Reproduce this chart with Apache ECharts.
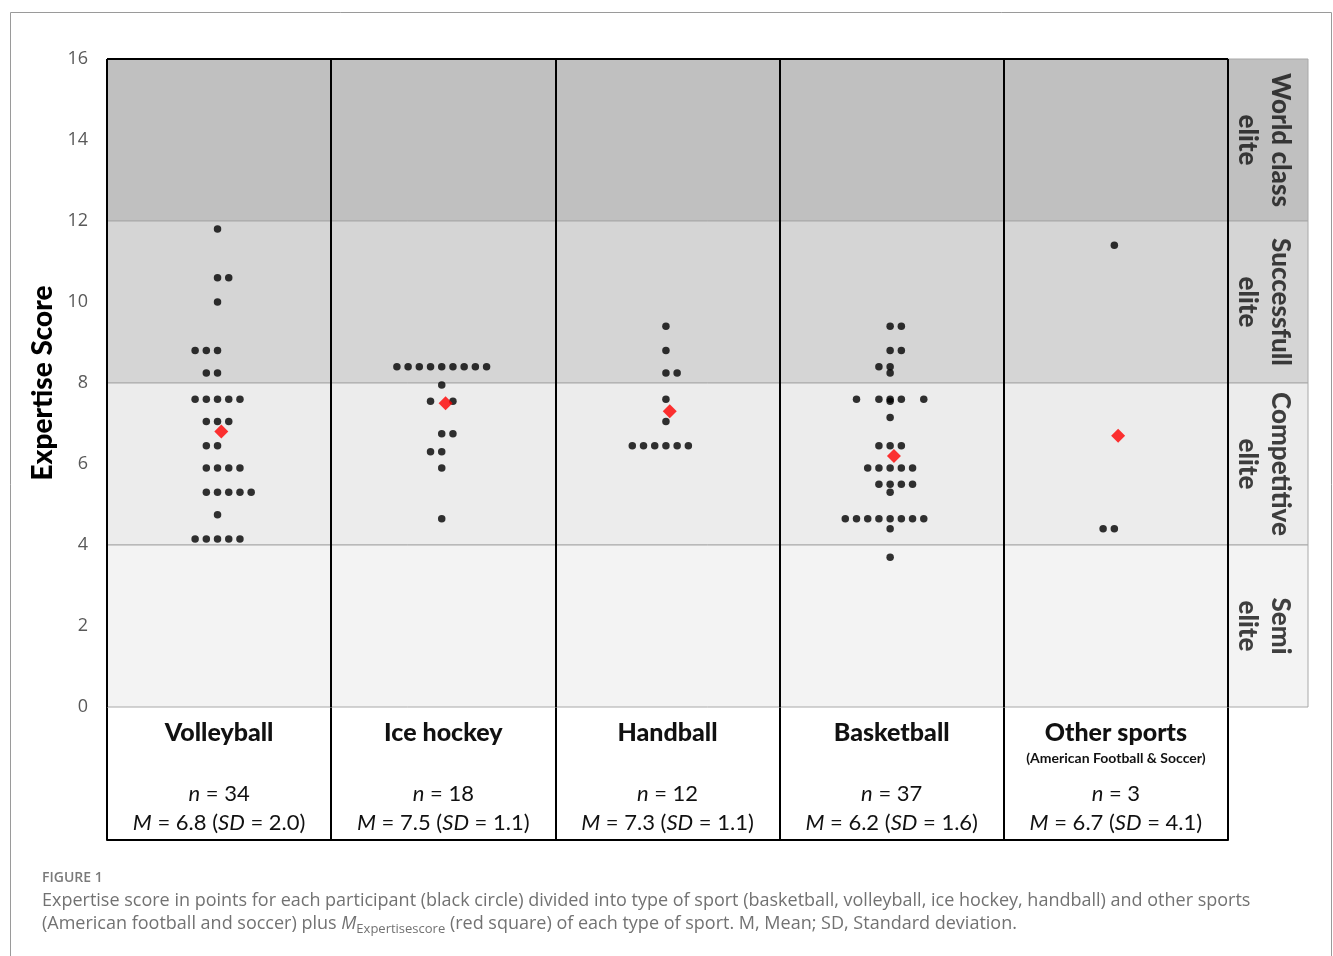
<!DOCTYPE html>
<html>
<head>
<meta charset="utf-8">
<script src="https://cdn.jsdelivr.net/npm/echarts@6/dist/echarts.min.js"></script>
<style>
  html, body { margin: 0; padding: 0; background: #fff; }
  #chart { width: 1333px; height: 956px; }
</style>
</head>
<body>
<div id="chart"></div>
<script>
// ---------- DATA ----------
const sports = ['Volleyball', 'Ice hockey', 'Handball', 'Basketball', 'Other sports'];
const subtitles = ['', '', '', '', '(American Football & Soccer)'];
const nCounts = [34, 18, 12, 37, 3];
const means = [6.8, 7.5, 7.3, 6.2, 6.7];
const sds = ['2.0', '1.1', '1.1', '1.6', '4.1'];

// each row: [expertise score, stacking slots of the dots at that score]
const volleyballDots = [
  [11.8, [0]], [10.6, [0, 1]], [10.0, [0]], [8.8, [-2, -1, 0]], [8.25, [-1, 0]],
  [7.6, [-2, -1, 0, 1, 2]], [7.05, [-1, 0, 1]], [6.45, [-1, 0]], [5.9, [-1, 0, 1, 2]],
  [5.3, [-1, 0, 1, 2, 3]], [4.75, [0]], [4.15, [-2, -1, 0, 1, 2]]
];
const iceHockeyDots = [
  [8.4, [-4, -3, -2, -1, 0, 1, 2, 3, 4]], [7.95, [0]], [7.55, [-1, 1]], [6.75, [0, 1]],
  [6.3, [-1, 0]], [5.9, [0]], [4.65, [0]]
];
const handballDots = [
  [9.4, [0]], [8.8, [0]], [8.25, [0, 1]], [7.6, [0]], [7.05, [0]], [6.45, [-3, -2, -1, 0, 1, 2]]
];
const basketballDots = [
  [9.4, [0, 1]], [8.8, [0, 1]], [8.4, [-1, 0]], [8.25, [0]], [7.6, [-3, -1, 0, 1, 3]],
  [7.55, [0]], [7.15, [0]], [6.45, [-1, 0, 1]], [5.9, [-2, -1, 0, 1, 2]], [5.5, [-1, 0, 1, 2]],
  [5.3, [0]], [4.65, [-4, -3, -2, -1, 0, 1, 2, 3]], [4.4, [0]], [3.7, [0]]
];
const otherDots = [
  [11.4, [0]], [4.4, [-1, 0]]
];

const bandNames = ['World class\nelite', 'Successfull\nelite', 'Competitive\nelite', 'Semi\nelite'];
const bandRanges = [[12, 16], [8, 12], [4, 8], [0, 4]];
const bandColors = ['#c0c0c0', '#d5d5d5', '#ececec', '#f3f3f3'];
const yTicks = [0, 2, 4, 6, 8, 10, 12, 14, 16];

// ---------- BUILD ----------
const allDots = [volleyballDots, iceHockeyDots, handballDots, basketballDots, otherDots];
const colCount = sports.length;
const xMax = colCount + 80 / 224.2;
const slotW = 0.05;

const dotData = [];
allDots.forEach((rows, i) => {
  rows.forEach(([score, slots]) => {
    slots.forEach(s => dotData.push([i + 0.493 + s * slotW, score]));
  });
});
const meanData = means.map((m, i) => [i + 0.51, m]);
const bandLabelData = bandRanges.map(r => [colCount + 0.158, (r[0] + r[1]) / 2]);

const colLines = [];
for (let i = 0; i <= colCount; i++) {
  colLines.push([{ coord: [i, 0] }, { coord: [i, 16] }]);
}
colLines.push([{ coord: [0, 16] }, { coord: [colCount, 16] }]);

const chart = echarts.init(document.getElementById('chart'), null, { renderer: 'canvas' });

const fam = 'Lato, "Open Sans", sans-serif';

const option = {
  backgroundColor: '#ffffff',
  animation: false,
  grid: [
    { left: 107, top: 59, width: 1201, height: 648 },
    { left: 107, top: 707, width: 1121, height: 133 }
  ],
  xAxis: [
    { type: 'value', gridIndex: 0, min: 0, max: xMax, show: false },
    {
      type: 'category', gridIndex: 1, position: 'top', data: sports,
      axisLine: { show: false }, axisTick: { show: false },
      splitLine: { show: true, lineStyle: { color: '#000', width: 2 } },
      axisLabel: {
        inside: true, margin: 9, interval: 0,
        formatter: (val, idx) =>
          `{name|${sports[idx]}}\n{sub|${subtitles[idx] || ' '}}\n{gap| }\n` +
          `{it|n}{rg| = ${nCounts[idx]}}\n` +
          `{it|M}{rg| = ${means[idx].toFixed(1)} (}{it|SD}{rg| = ${sds[idx]})}`,
        rich: {
          name: { fontFamily: fam, fontSize: 25, fontWeight: 900, color: '#111', lineHeight: 34 },
          sub: { fontFamily: fam, fontSize: 14, fontWeight: 'bold', color: '#111', lineHeight: 16 },
          gap: { fontSize: 10, lineHeight: 13 },
          it: { fontFamily: fam, fontSize: 22, fontStyle: 'italic', color: '#111', lineHeight: 29 },
          rg: { fontFamily: fam, fontSize: 22, color: '#111', lineHeight: 29 }
        }
      }
    },
    {
      type: 'category', gridIndex: 1, position: 'bottom', data: sports,
      axisLine: { show: true, lineStyle: { color: '#000', width: 2 } },
      axisTick: { show: false }, axisLabel: { show: false }, splitLine: { show: false }
    }
  ],
  yAxis: [
    {
      type: 'value', gridIndex: 0, min: 0, max: 16, interval: 2,
      axisLine: { show: false }, axisTick: { show: false }, splitLine: { show: false },
      axisLabel: {
        margin: 19, fontSize: 18, color: '#595959', fontFamily: '"Open Sans", sans-serif',
        formatter: v => (yTicks.includes(v) ? String(v) : '')
      },
      name: 'Expertise Score', nameLocation: 'middle', nameGap: 47,
      nameTextStyle: { fontFamily: fam, fontSize: 28, fontWeight: 900, color: '#000' }
    },
    { type: 'value', gridIndex: 1, show: false, min: 0, max: 1 }
  ],
  series: [
    {
      name: 'bands', type: 'scatter', xAxisIndex: 0, yAxisIndex: 0, z: 1,
      data: bandLabelData, symbolSize: 0, silent: true,
      label: {
        show: true, position: 'inside', rotate: -90,
        formatter: p => bandNames[p.dataIndex],
        fontFamily: fam, fontSize: 26, fontWeight: 900, color: '#111', lineHeight: 33,
        align: 'center', verticalAlign: 'middle'
      },
      markArea: {
        silent: true,
        data: bandRanges.map((r, i) => [
          { yAxis: r[0], itemStyle: { color: bandColors[i], borderColor: '#a8a8a8', borderWidth: 1 } },
          { yAxis: r[1] }
        ])
      }
    },
    {
      name: 'Participants', type: 'scatter', xAxisIndex: 0, yAxisIndex: 0, z: 4,
      data: dotData, symbol: 'circle', symbolSize: 7.5,
      itemStyle: { color: '#000' }, silent: true,
      markLine: {
        silent: true, symbol: 'none', label: { show: false },
        lineStyle: { color: '#000', width: 2, type: 'solid' },
        data: colLines
      }
    },
    {
      name: 'Mean', type: 'scatter', xAxisIndex: 0, yAxisIndex: 0, z: 5,
      data: meanData, symbol: 'diamond', symbolSize: 14,
      itemStyle: { color: '#ff0000' }, silent: true
    }
  ],
  graphic: [
    {
      type: 'rect', silent: true, z: 100,
      shape: { x: 10.5, y: 12.5, width: 1321, height: 960 },
      style: { fill: 'none', stroke: '#9a9a9a', lineWidth: 1 }
    },
    {
      type: 'text', left: 42, top: 871, silent: true,
      style: {
        text: 'FIGURE 1', font: '600 14px "Open Sans", sans-serif', fill: '#7a7a7a'
      }
    },
    {
      type: 'text', left: 42, top: 892, silent: true,
      style: {
        text: '{t|Expertise score in points for each participant (black circle) divided into type of sport (basketball, volleyball, ice hockey, handball) and other sports}\n' +
              '{t|(American football and soccer) plus }{it|M}{sb|Expertisescore}{t| (red square) of each type of sport. M, Mean; SD, Standard deviation.}',
        rich: {
          t: { fontFamily: '"Open Sans", sans-serif', fontSize: 18, fill: '#727272', lineHeight: 23 },
          it: { fontFamily: '"Open Sans", sans-serif', fontSize: 18, fontStyle: 'italic', fill: '#727272', lineHeight: 23 },
          sb: { fontFamily: '"Open Sans", sans-serif', fontSize: 13, fill: '#727272', lineHeight: 15, verticalAlign: 'bottom' }
        }
      }
    }
  ]
};
chart.setOption(option);
</script>
</body>
</html>
